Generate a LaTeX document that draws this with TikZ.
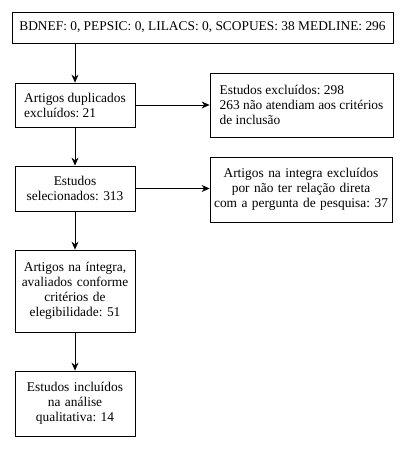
\documentclass[tikz,border=0pt]{standalone}
\usepackage{fontspec}
\setmainfont{Liberation Serif}
\frenchspacing
\usetikzlibrary{arrows.meta}
\begin{document}
\begin{tikzpicture}[x=1pt, y=-1pt,
    box/.style = {draw, line width = 0.8pt, inner sep = 0pt, font = \fontsize{13.4}{15}\selectfont},
    flow/.style = {-{Stealth[length = 8pt, width = 7pt]}, line width = 0.8pt}]
            \useasboundingbox (0,0) rectangle (416,449);

            % Search and screening
            \node [box, minimum width = 381, minimum height = 31] (Bases) at (202.5, 27.5) {BDNEF: 0, PEPSIC: 0, LILACS: 0, SCOPUES: 38 MEDLINE: 296};
            \node [box, minimum width = 120, minimum height = 44, align = left] (Duplicados) at (75, 105) {Artigos duplicados\\excluídos: 21};
            \node [box, minimum width = 183, minimum height = 64, align = left] (Excluidos) at (301.5, 105) {Estudos excluídos: 298\\263 não atendiam aos critérios\\de inclusão};

            % Selection and full text
            \node [box, minimum width = 120, minimum height = 45, text width = 118, align = center] (Selecionados) at (75, 188.5) {Estudos\\selecionados: 313};
            \node [box, minimum width = 182, minimum height = 65, text width = 181, align = center] (Integra) at (301, 189.5) {Artigos na integra excluídos\\por não ter relação direta\\com a pergunta de pesquisa: 37};
            \node [box, minimum width = 120, minimum height = 82, text width = 119, align = center] (Avaliados) at (75, 291) {Artigos na íntegra,\\avaliados conforme\\critérios de\\elegibilidade: 51};
            \node [box, minimum width = 120, minimum height = 65, text width = 119, align = center] (Incluidos) at (75, 403.5) {Estudos incluídos\\na análise\\qualitativa: 14};

            % Arrows
            \draw [flow] (Bases.south -| Duplicados.north) -- (Duplicados.north);
            \draw [flow] (Duplicados.east) -- (Excluidos.west |- Duplicados.east);
            \draw [flow] (Duplicados) -- (Selecionados);
            \draw [flow] (Selecionados.east) -- (Integra.west |- Selecionados.east);
            \draw [flow] (Selecionados) -- (Avaliados);
            \draw [flow] (Avaliados) -- (Incluidos);
        \end{tikzpicture}
\end{document}
